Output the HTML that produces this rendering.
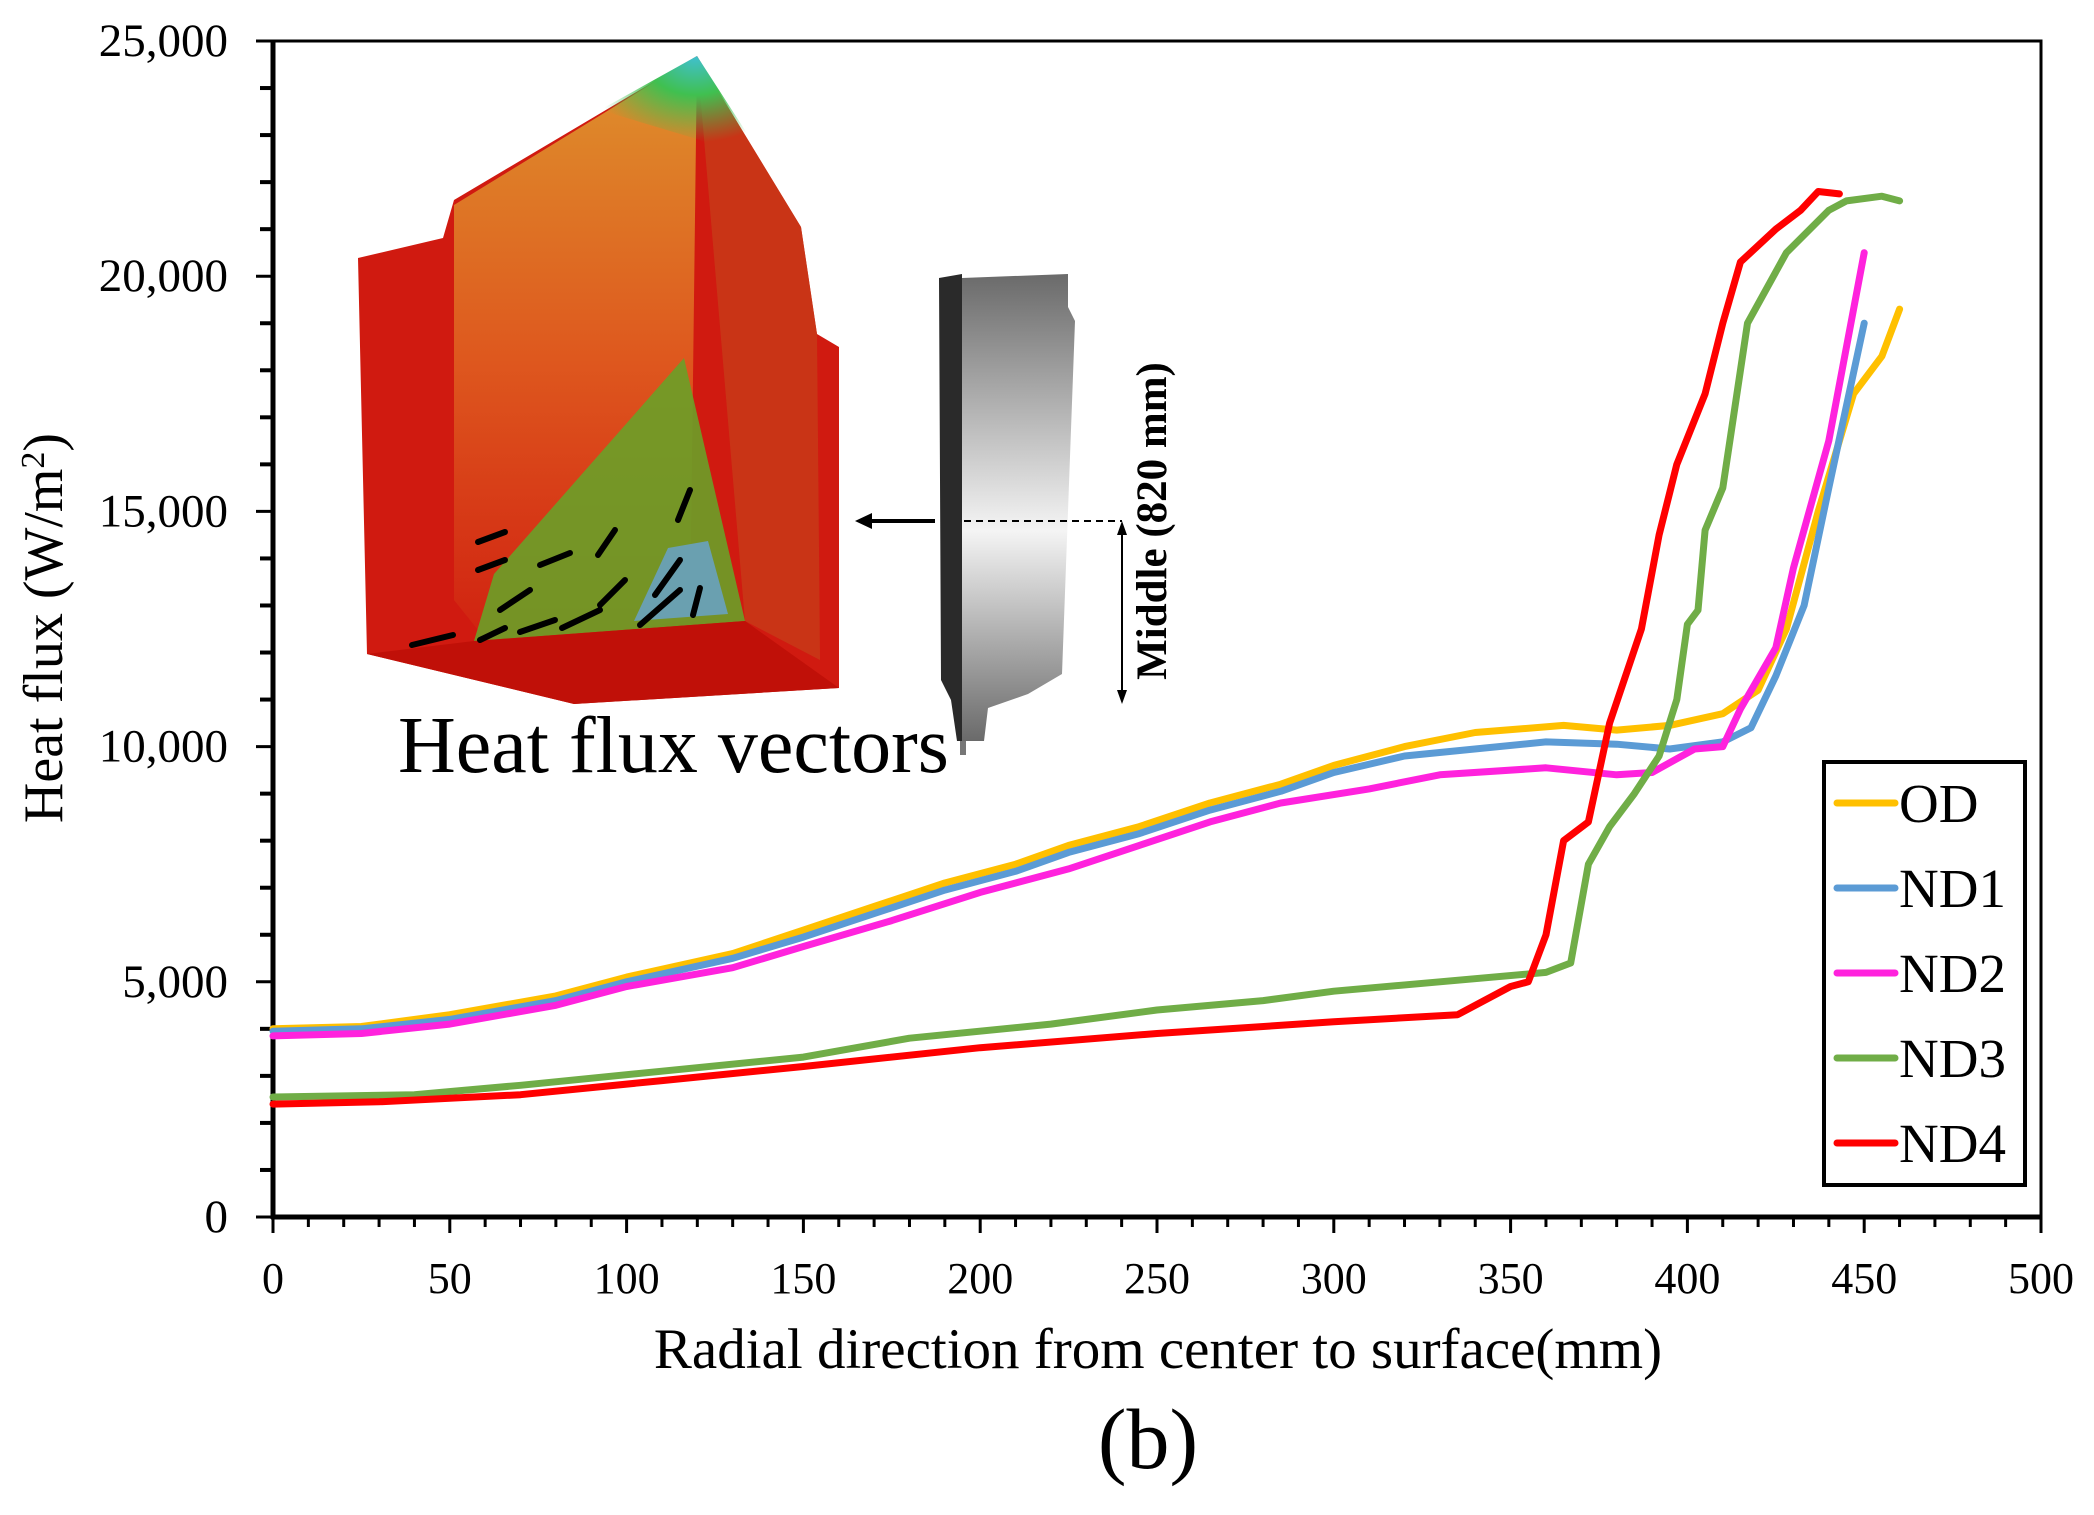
<!DOCTYPE html>
<html><head><meta charset="utf-8"><style>
html,body{margin:0;padding:0;background:#fff;}
svg{display:block;font-family:"Liberation Serif",serif;}
</style></head><body>
<svg id="chart" width="2094" height="1515" viewBox="0 0 2094 1515" xmlns="http://www.w3.org/2000/svg">
<defs>
<linearGradient id="rodg" x1="0" y1="0" x2="0" y2="1">
<stop offset="0" stop-color="#6a6a6a"/><stop offset="0.55" stop-color="#f4f4f4"/><stop offset="1" stop-color="#6a6a6a"/>
</linearGradient>
<linearGradient id="bodyg" x1="0" y1="0" x2="0" y2="1">
<stop offset="0" stop-color="#e0a030"/><stop offset="0.5" stop-color="#e06020"/><stop offset="1" stop-color="#d02010"/>
</linearGradient>
<radialGradient id="capg" cx="0.5" cy="0" r="0.6">
<stop offset="0" stop-color="#40c0d0"/><stop offset="0.45" stop-color="#40c050"/><stop offset="1" stop-color="#40c050" stop-opacity="0"/>
</radialGradient>
</defs>

<g>
<polygon points="358,258 443,238 454,200 697,56 801,227 817,334 839,347 839,688 574,704 367,654" fill="#d01a10"/>
<polygon points="454,205 697,56 690,620 494,650 454,600" fill="url(#bodyg)" opacity="0.9"/>
<polygon points="697,56 801,227 817,334 820,660 745,621" fill="#c83a18" opacity="0.85"/>
<polygon points="600,110 697,56 790,200 700,140" fill="url(#capg)"/>
<polygon points="494,574 684,358 745,621 474,641" fill="#6aa028" opacity="0.9"/>
<polygon points="668,548 708,541 728,614 634,621" fill="#6aa0b0"/>
<polygon points="367,654 474,641 745,621 839,688 574,704" fill="#c01008"/>
<g stroke="#000" stroke-width="6" stroke-linecap="round" fill="#000">
<line x1="505" y1="532" x2="478" y2="542"/><line x1="505" y1="560" x2="478" y2="570"/><line x1="570" y1="553" x2="540" y2="565"/><line x1="615" y1="530" x2="598" y2="555"/><line x1="690" y1="490" x2="678" y2="520"/><line x1="530" y1="590" x2="500" y2="610"/><line x1="625" y1="580" x2="600" y2="605"/><line x1="680" y1="560" x2="655" y2="595"/><line x1="555" y1="620" x2="520" y2="632"/><line x1="600" y1="610" x2="562" y2="628"/><line x1="505" y1="628" x2="480" y2="640"/><line x1="453" y1="635" x2="412" y2="645"/><line x1="700" y1="588" x2="693" y2="615"/><line x1="680" y1="590" x2="640" y2="625"/>
</g>
<text x="398" y="772" font-size="80">Heat flux vectors</text>
<polygon points="939,278 962,274 962,741 957,741 951,700 941,680" fill="#2a2a2a"/>
<polygon points="962,278 1068,274 1068,307 1075,321 1062,674 1028,694 988,708 984,741 962,741" fill="url(#rodg)"/>
<rect x="960" y="741" width="6" height="14" fill="#777"/>
<line x1="935" y1="521" x2="870" y2="521" stroke="#000" stroke-width="4"/>
<polygon points="855,521 872,513 872,529" fill="#000"/>
<line x1="964" y1="521" x2="1122" y2="521" stroke="#000" stroke-width="2" stroke-dasharray="7,5"/>
<line x1="1122" y1="524" x2="1122" y2="698" stroke="#000" stroke-width="2"/>
<polygon points="1122,704 1117,690 1127,690" fill="#000"/>
<polygon points="1122,521 1117,535 1127,535" fill="#000"/>
<text transform="translate(1166,521) rotate(-90)" text-anchor="middle" font-size="43" font-weight="bold">Middle (820 mm)</text>
</g>

<g id="axes"></g>
<g id="series"></g>
<g id="legend"></g>
<text transform="translate(62,628) rotate(-90)" text-anchor="middle" font-size="56">Heat flux (W/m<tspan font-size="34" dy="-18">2</tspan><tspan dy="18">)</tspan></text>
<text x="1158" y="1368" text-anchor="middle" font-size="57">Radial direction from center to surface(mm)</text>
<text x="1148" y="1468" text-anchor="middle" font-size="86">(b)</text>
</svg>
<script>
const xTicks = [0,50,100,150,200,250,300,350,400,450,500];
const yTicks = [0,5000,10000,15000,20000,25000];
const yTickLabels = ["0","5,000","10,000","15,000","20,000","25,000"];
const seriesNames = ["OD","ND1","ND2","ND3","ND4"];
const seriesColors = ["#ffc000","#5b9bd5","#ff22dd","#70ad47","#ff0000"];
const odX = [0,25,50,80,100,130,150,170,190,210,225,245,265,285,300,320,340,365,380,395,410,420,428,437,447,455,460];
const odY = [4000,4050,4300,4700,5100,5600,6100,6600,7100,7500,7900,8300,8800,9200,9600,10000,10300,10450,10350,10450,10700,11200,12500,15000,17500,18300,19300];
const nd1X = [0,25,50,80,100,130,150,170,190,210,225,245,265,285,300,320,360,380,395,410,418,425,433,440,450];
const nd1Y = [3950,4000,4200,4600,5000,5500,5950,6450,6950,7350,7750,8150,8650,9050,9450,9800,10100,10050,9950,10100,10400,11500,13000,15500,19000];
const nd2X = [0,25,50,80,100,130,150,175,200,225,245,265,285,310,330,360,380,390,402,410,415,425,430,440,450];
const nd2Y = [3850,3900,4100,4500,4900,5300,5750,6300,6900,7400,7900,8400,8800,9100,9400,9550,9400,9450,9950,10000,10800,12100,13800,16500,20500];
const nd3X = [0,40,70,110,150,180,220,250,280,300,330,360,367,372,378,385,392,397,400,403,405,410,413,417,428,440,445,455,460];
const nd3Y = [2550,2600,2800,3100,3400,3800,4100,4400,4600,4800,5000,5200,5400,7500,8300,9000,9800,11000,12600,12900,14600,15500,17000,19000,20500,21400,21600,21700,21600];
const nd4X = [0,30,70,110,150,200,250,300,335,350,355,360,365,372,378,387,392,397,405,410,415,425,432,437,443];
const nd4Y = [2400,2450,2600,2900,3200,3600,3900,4150,4300,4900,5000,6000,8000,8400,10500,12500,14500,16000,17500,19000,20300,21000,21400,21800,21750];
const allX = [odX,nd1X,nd2X,nd3X,nd4X];
const allY = [odY,nd1Y,nd2Y,nd3Y,nd4Y];

const L=273,R=2041,T=41,B=1217;
const xs = v => L + (v/500)*(R-L);
const ys = v => B - (v/25000)*(B-T);
const NS="http://www.w3.org/2000/svg";
function mk(tag, attrs, parent){const e=document.createElementNS(NS,tag);for(const k in attrs)e.setAttribute(k,attrs[k]);parent.appendChild(e);return e;}

const axes=document.getElementById('axes');
const frame=mk('rect',{x:L,y:T,width:R-L,height:B-T,fill:'none',stroke:'#000','stroke-width':3},axes);


mk('line',{x1:L,y1:T,x2:L,y2:B+2,stroke:'#000','stroke-width':5},axes);
mk('line',{x1:L-2,y1:B,x2:R,y2:B,stroke:'#000','stroke-width':5},axes);
for(let v=0; v<=25000; v+=1000){
  const y=ys(v), major=(v%5000===0);
  mk('line',{x1:L-(major?17:13),y1:y,x2:L,y2:y,stroke:'#000','stroke-width':major?3:4},axes);
}
for(let v=0; v<=500; v+=10){
  const x=xs(v), major=(v%50===0);
  mk('line',{x1:x,y1:B,x2:x,y2:B+(major?16:10),stroke:'#000','stroke-width':3},axes);
}
yTicks.forEach((v,i)=>{
  const t=mk('text',{x:228,y:ys(v)+15,'text-anchor':'end','font-size':47},axes);
  t.textContent=yTickLabels[i];
  
  
});
xTicks.forEach(v=>{
  const t=mk('text',{x:xs(v),y:1293,'text-anchor':'middle','font-size':44},axes);
  t.textContent=String(v);
  
  
});

const series=document.getElementById('series');
allX.forEach((xa,i)=>{
  const d=xa.map((x,j)=>(j?'L':'M')+xs(x).toFixed(1)+','+ys(allY[i][j]).toFixed(1)).join(' ');
  const p=mk('path',{d:d,fill:'none',stroke:seriesColors[i],'stroke-width':7,'stroke-linejoin':'round','stroke-linecap':'round'},series);
  
  
});

const legend=document.getElementById('legend');
const box=mk('rect',{x:1824,y:762,width:201,height:423,fill:'#fff',stroke:'#000','stroke-width':4},legend);


seriesNames.forEach((n,i)=>{
  const y=803+i*85;
  const ln=mk('line',{x1:1837,y1:y,x2:1895,y2:y,stroke:seriesColors[i],'stroke-width':7,'stroke-linecap':'round'},legend);
  
  
  const t=mk('text',{x:1899,y:y+19,'font-size':55},legend);
  t.textContent=n;
  
  
});
</script>
</body></html>
